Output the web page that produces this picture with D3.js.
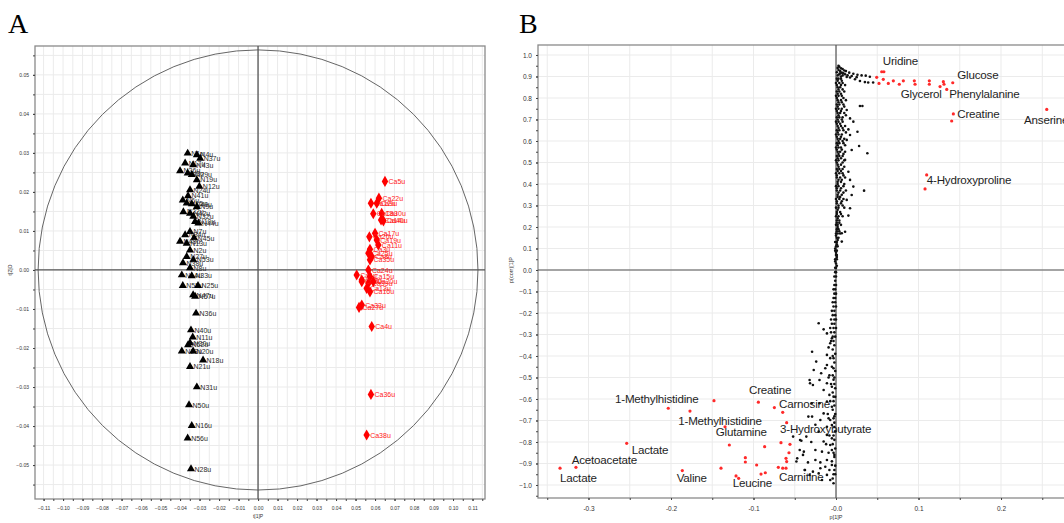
<!DOCTYPE html>
<html>
<head>
<meta charset="utf-8">
<style>
  body { margin: 0; background: #fff; }
  svg { display: block; font-family: "Liberation Sans", Arial, sans-serif; }
</style>
</head>
<body>
<svg id="draw" width="1064" height="523"></svg>

<script src="https://cdnjs.cloudflare.com/ajax/libs/d3/7.8.5/d3.min.js"></script>

<script>
    // ---------- panel A : scores t[1]P / t[2]O ----------
    var aTickX = [-0.11,-0.10,-0.09,-0.08,-0.07,-0.06,-0.05,-0.04,-0.03,-0.02,-0.01,0,0.01,0.02,0.03,0.04,0.05,0.06,0.07,0.08,0.09,0.10,0.11];
    var aTickY = [0.05,0.04,0.03,0.02,0.01,0,-0.01,-0.02,-0.03,-0.04,-0.05];
    var aEllipse = [0.1128, 0.0564]; // Hotelling T2 radii (t1, t2)

    var groupN = [
        ["N1u",-0.0361,0.0299],["N4u",-0.0314,0.0295],["N37u",-0.0297,0.0286],["N17u",-0.0374,0.0274],
        ["N43u",-0.0333,0.0269],["N26u",-0.0400,0.0254],["N3u",-0.0361,0.0248],["N29u",-0.0340,0.0244],
        ["N19u",-0.0314,0.0231],["N12u",-0.0301,0.0214],["N24u",-0.0349,0.0205],["N41u",-0.0359,0.0190],
        ["N6u",-0.0386,0.0179],["N15u",-0.0366,0.0171],["N49u",-0.0340,0.0169],["N9u",-0.0314,0.0162],
        ["N22u",-0.0383,0.0149],["N42u",-0.0349,0.0145],["N32u",-0.0332,0.0137],["N10u",-0.0323,0.0124],
        ["N44u",-0.0306,0.0120],["N7u",-0.0349,0.0098],["N34u",-0.0374,0.0090],["N45u",-0.0328,0.0082],
        ["N48u",-0.0400,0.0073],["N13u",-0.0366,0.0068],["N2u",-0.0349,0.0051],["N27u",-0.0366,0.0034],
        ["N53u",-0.0332,0.0026],["N38u",-0.0385,0.0018],["N8u",-0.0349,0.0005],["N14u",-0.0391,-0.0013],
        ["N33u",-0.0340,-0.0015],["N55u",-0.0386,-0.0040],["N25u",-0.0308,-0.0040],["N47u",-0.0333,-0.0064],
        ["N57u",-0.0323,-0.0068],["N36u",-0.0318,-0.0111],["N40u",-0.0344,-0.0154],["N11u",-0.0335,-0.0172],
        ["N30u",-0.0349,-0.0187],["N52u",-0.0359,-0.0192],["N23u",-0.0391,-0.0208],["N20u",-0.0333,-0.0208],
        ["N18u",-0.0282,-0.0231],["N21u",-0.0349,-0.0248],["N31u",-0.0314,-0.0300],["N50u",-0.0354,-0.0346],
        ["N16u",-0.0340,-0.0399],["N56u",-0.0361,-0.0431],["N28u",-0.0344,-0.0510]
    ];

    var groupCa = [
        ["Ca5u",0.0651,0.0227],["Ca22u",0.0620,0.0184],["Ca12u",0.0579,0.0171],["Ca9u",0.0609,0.0171],
        ["Ca30u",0.0634,0.0145],["Ca18u",0.0591,0.0144],["Ca14u",0.0631,0.0128],["Ca40u",0.0643,0.0126],
        ["Ca17u",0.0600,0.0094],["Ca26u",0.0571,0.0085],["Ca19u",0.0609,0.0077],["Ca11u",0.0617,0.0064],
        ["Ca3u",0.0574,0.0053],["Ca25u",0.0566,0.0043],["Ca8u",0.0583,0.0034],["Ca35u",0.0574,0.0026],
        ["Ca24u",0.0566,0.0000],["Ca1u",0.0506,-0.0013],["Ca15u",0.0574,-0.0017],["Ca2u",0.0532,-0.0026],
        ["Ca39u",0.0566,-0.0034],["Ca6u",0.0532,-0.0030],["Ca20u",0.0591,-0.0030],["Ca13u",0.0557,-0.0047],
        ["Ca16u",0.0574,-0.0056],["Ca33u",0.0532,-0.0090],["Ca27u",0.0518,-0.0096],["Ca4u",0.0583,-0.0145],
        ["Ca36u",0.0579,-0.0319],["Ca38u",0.0557,-0.0423]
    ];

    // ---------- panel B : S-plot p[1]P / p(corr)[1]P ----------
    var bTickX = [-0.3,-0.2,-0.1,0,0.1,0.2];
    var bTickXLabels = ["-0.3","-0.2","-0.1","-0.0","0.1","0.2"];
    var bTickY = [1,0.9,0.8,0.7,0.6,0.5,0.4,0.3,0.2,0.1,0,-0.1,-0.2,-0.3,-0.4,-0.5,-0.6,-0.7,-0.8,-0.9,-1];

    // dense top cluster and the two arms bending right
    var sTop = [[0.002,0.94],[0.004,0.945],[0.006,0.938],[0.003,0.93],[0.008,0.935],[0.005,0.925],[0.001,0.92],
        [0.007,0.918],[0.010,0.928],[0.002,0.905],[0.004,0.91],[0.006,0.90],[0.012,0.925],[0.016,0.918],
        [0.021,0.913],[0.026,0.908],[0.031,0.905],[0.036,0.904],[0.041,0.899],[0.011,0.91],[0.017,0.895],
        [0.023,0.887],[0.029,0.879],[0.035,0.874],[0.039,0.872],[0.045,0.872],[0.014,0.905],[0.019,0.902],[0.025,0.897],
        [0.003,0.95],[0.005,0.915],[0.009,0.915],[0.013,0.898],[0.008,0.905]];

    // main column, rows of [p(corr), [p values]]
    var sColumn = [
        [0.89,[0.001,0.003,0.006]],[0.87,[0.000,0.004,0.008]],[0.85,[0.002,0.005]],[0.83,[0.001,0.004,0.010]],
        [0.81,[0.000,0.003,0.007]],[0.79,[0.002,0.006,0.012]],[0.77,[0.001,0.004,0.009]],[0.75,[0.000,0.003,0.007]],
        [0.73,[0.002,0.005,0.010]],[0.71,[0.001,0.004,0.008]],[0.69,[0.000,0.003,0.008]],[0.67,[0.002,0.006,0.011]],
        [0.65,[0.001,0.004,0.009]],[0.63,[0.000,0.003,0.007]],[0.61,[0.002,0.005,0.010]],[0.59,[0.001,0.004,0.009]],
        [0.57,[0.000,0.003,0.006]],[0.55,[0.002,0.005,0.011]],[0.53,[0.001,0.004,0.008]],[0.51,[0.000,0.003,0.010]],
        [0.49,[0.002,0.006]],[0.47,[0.001,0.004,0.008]],[0.45,[0.000,0.004,0.008]],[0.43,[0.001,0.005,0.011]],
        [0.41,[0.002,0.006]],[0.39,[0.000,0.003,0.009]],[0.37,[0.001,0.005,0.012]],[0.35,[0.002,0.007]],
        [0.33,[0.000,0.004,0.009]],[0.31,[0.001,0.006]],[0.29,[0.000,0.003,0.010]],[0.27,[0.001,0.005]],
        [0.25,[0.000,0.003,0.008]],[0.23,[0.001,0.004]],[0.21,[0.000,0.002,0.006]],[0.19,[0.001,0.003]],
        [0.17,[0.000,0.002,0.005]],[0.15,[0.001,0.003]],[0.13,[-0.001,0.001]],[0.11,[0.000,0.002]],
        [0.09,[-0.001,0.001]],[0.07,[0.000,0.001]],[0.05,[-0.001,0.001]],[0.03,[0.000]],[0.01,[-0.001,0.000]],
        [-0.01,[-0.001,0.000]],[-0.03,[-0.002,0.000]],[-0.05,[-0.001]],[-0.07,[-0.002,0.000]],[-0.09,[-0.003,-0.001]],
        [-0.11,[-0.002,0.000]],[-0.13,[-0.003,-0.001]],[-0.15,[-0.004,-0.001]],[-0.17,[-0.003,0.000]],
        [-0.19,[-0.005,-0.002]],[-0.21,[-0.004,-0.001]],[-0.23,[-0.006,-0.002,0.000]],[-0.25,[-0.005,-0.002]],
        [-0.27,[-0.007,-0.003,0.000]],[-0.29,[-0.006,-0.002]],[-0.31,[-0.004,-0.001]],[-0.35,[-0.002]],
        [-0.39,[-0.001]],[-0.43,[-0.002]],[-0.47,[-0.001]],[-0.51,[-0.003]],[-0.55,[-0.001]],[-0.59,[-0.001]],
        [-0.63,[-0.002]],[-0.67,[-0.001]],[-0.71,[-0.002]],[-0.75,[-0.001]],[-0.79,[-0.002]],[-0.83,[-0.001]],
        [-0.87,[-0.002]],[-0.91,[-0.001]],[-0.95,[-0.003]]
    ];

    // second pass over the column, in between the rows above
    var sColumnFill = [
        [0.88,[0.002,0.007]],[0.86,[0.001,0.006,0.011]],[0.84,[0.003,0.008]],[0.82,[0.002,0.006]],[0.80,[0.001,0.009]],
        [0.78,[0.003,0.007]],[0.76,[0.002,0.010]],[0.74,[0.001,0.006]],[0.72,[0.003,0.012]],[0.70,[0.002,0.007]],
        [0.68,[0.001,0.005]],[0.66,[0.003,0.008]],[0.64,[0.002,0.012]],[0.62,[0.001,0.006]],[0.60,[0.003,0.008]],
        [0.58,[0.002,0.011]],[0.56,[0.001,0.007]],[0.54,[0.003,0.009]],[0.52,[0.002,0.006]],[0.50,[0.001,0.008]],
        [0.48,[0.003,0.010]],[0.46,[0.002,0.006]],[0.44,[0.001,0.009]],[0.42,[0.003,0.007]],[0.40,[0.002,0.010]],
        [0.38,[0.001,0.006]],[0.36,[0.003,0.009]],[0.34,[0.002,0.005]],[0.32,[0.001,0.007]],[0.30,[0.003,0.008]],
        [0.28,[0.002]],[0.26,[0.001,0.006]],[0.24,[0.002]],[0.22,[0.001,0.004]],[0.20,[0.002]],[0.18,[0.001,0.004]],
        [0.16,[0.000]],[0.14,[0.002]],[0.12,[0.001]],[0.10,[-0.001]],[0.08,[0.000]],[0.06,[0.001]],[0.04,[-0.001]],
        [0.02,[0.001]],
        [-0.33,[-0.003,-0.006]],[-0.37,[-0.004]],[-0.41,[-0.003,-0.007]],[-0.45,[-0.005]],[-0.49,[-0.004,-0.008]],
        [-0.53,[-0.002,-0.006]],[-0.57,[-0.004]],[-0.61,[-0.003,-0.007]],[-0.65,[-0.004]],[-0.69,[-0.003,-0.009]],
        [-0.73,[-0.002]],[-0.77,[-0.003,-0.008]],[-0.81,[-0.004,-0.012]],[-0.85,[-0.003,-0.009]],[-0.89,[-0.005]],
        [-0.93,[-0.002,-0.008]],[-0.97,[-0.004]]
    ];

    var sOutUpper = [[0.029,0.763],[0.032,0.763],[0.013,0.744],[0.017,0.705],[0.021,0.69],[0.015,0.654],[0.026,0.643],
        [0.017,0.628],[0.013,0.605],[0.019,0.558],[0.028,0.577],[0.038,0.543],[0.011,0.512],[0.015,0.457],
        [0.017,0.419],[0.021,0.388],[0.034,0.369],[0.019,0.349],[0.013,0.326],[0.017,0.287],[0.015,0.253],
        [0.011,0.178],[0.007,0.171],[0.007,0.132]];

    var sOutLower = [[-0.021,-0.248],[-0.015,-0.276],[-0.011,-0.295],[-0.005,-0.318],[-0.007,-0.341],[-0.029,-0.38],
        [-0.011,-0.395],[-0.004,-0.40],[-0.024,-0.426],[-0.011,-0.442],[-0.003,-0.457],[-0.027,-0.465],[-0.013,-0.457],
        [-0.032,-0.512],[-0.020,-0.512],[-0.011,-0.527],[-0.005,-0.543],[-0.028,-0.535],[-0.015,-0.558],[-0.008,-0.581],
        [-0.003,-0.589],[-0.011,-0.612],[-0.005,-0.636],[-0.029,-0.682],[-0.015,-0.667],[-0.019,-0.698],[-0.007,-0.698],
        [-0.005,-0.721],[-0.011,-0.729],[-0.036,-0.775],[-0.021,-0.752],[-0.011,-0.767],[-0.005,-0.783],[-0.042,-0.794],
        [-0.015,-0.798],[-0.007,-0.814],[-0.044,-0.837],[-0.039,-0.845],[-0.025,-0.837],[-0.017,-0.845],[-0.005,-0.837],
        [-0.048,-0.891],[-0.034,-0.895],[-0.025,-0.884],[-0.019,-0.895],[-0.011,-0.884],[-0.038,-0.930],[-0.028,-0.938],
        [-0.019,-0.922],[-0.013,-0.915],[-0.005,-0.907],[-0.021,-0.946],[-0.011,-0.953],[-0.032,-0.953],[-0.017,-0.977],
        [-0.007,-0.977],[-0.003,-0.992],[-0.0315,-0.527],[-0.0295,-0.62],[-0.0335,-0.682],[-0.052,-0.775],
        [-0.0436,-0.791],[-0.047,-0.876],[-0.0376,-0.93],[-0.040,-0.86],[-0.030,-0.80],[-0.025,-0.72],[-0.020,-0.62],
        [-0.018,-0.48],[-0.009,-0.36],[-0.002,-0.50],[-0.002,-0.68],[-0.002,-0.86],[-0.001,-0.95],[-0.009,-0.50],[-0.010,-0.67]];

    // significant metabolites (red)
    var sRed = [[0.0554,0.922],[0.058,0.922],[0.0493,0.896],[0.0521,0.868],[0.0573,0.887],[0.0634,0.868],[0.0695,0.880],
        [0.0767,0.864],[0.0816,0.880],[0.0949,0.880],[0.0958,0.864],[0.1131,0.880],[0.1131,0.864],[0.1261,0.853],
        [0.1301,0.876],[0.1309,0.864],[0.1342,0.840],[0.1415,0.871],[0.1422,0.726],[0.1402,0.693],[0.2554,0.747],
        [0.1099,0.442],[0.1079,0.377],
        [-0.3345,-0.922],[-0.3152,-0.918],[-0.2537,-0.806],[-0.2033,-0.643],[-0.1479,-0.608],[-0.177,-0.656],
        [-0.0941,-0.615],[-0.0747,-0.640],[-0.0646,-0.662],[-0.1345,-0.729],[-0.0598,-0.710],[-0.1293,-0.814],
        [-0.0865,-0.822],[-0.0667,-0.803],[-0.0558,-0.811],[-0.057,-0.850],[-0.0606,-0.876],[-0.0598,-0.891],
        [-0.1099,-0.873],[-0.1099,-0.893],[-0.0962,-0.907],[-0.0699,-0.918],[-0.0646,-0.922],[-0.0606,-0.922],
        [-0.1394,-0.922],[-0.1863,-0.933],[-0.1212,-0.958],[-0.118,-0.969],[-0.0909,-0.949],[-0.0857,-0.943]];

    var sLabels = [
        ["Uridine",0.0566,0.973],["Glucose",0.147,0.910],["Glycerol",0.0785,0.822],["Phenylalanine",0.1373,0.822],
        ["Creatine",0.147,0.729],["Anserine",0.2279,0.702],["4-Hydroxyproline",0.110,0.423],
        ["Lactate",-0.3345,-0.964],["Acetoacetate",-0.3204,-0.880],["Lactate",-0.2476,-0.837],
        ["1-Methylhistidine",-0.2679,-0.597],["1-Methylhistidine",-0.1912,-0.701],["Glutamine",-0.1458,-0.752],
        ["Creatine",-0.1055,-0.558],["Carnosine",-0.0691,-0.620],["3-Hydroxybutyrate",-0.0679,-0.736],
        ["Valine",-0.1931,-0.964],["Leucine",-0.1252,-0.987],["Carnitine",-0.0691,-0.961]
    ];

    var gridColor = "#ebebeb";
    var frameColor = "#8a8a8a";
    var axisColor = "#555";
    var tickColor = "#444";

    const svg = d3.select("svg#draw");

    // panel letters
    svg.append("text").attr("x", 8).attr("y", 33).text("A")
        .style("font-family", "'Liberation Serif', serif").style("font-size", "28px");
    svg.append("text").attr("x", 519).attr("y", 33).text("B")
        .style("font-family", "'Liberation Serif', serif").style("font-size", "28px");

    // ================= panel A =================
    var ax = d3.scaleLinear().domain([-0.1144, 0.1164]).range([35, 485]);
    var ay = d3.scaleLinear().domain([0.0574, -0.0587]).range([46, 499]);
    var gA = svg.append("g");

    gA.append("g").selectAll("line").data(d3.range(-22, 24).map(i => i * 0.005))
        .join("line")
        .attr("x1", d => ax(d)).attr("x2", d => ax(d)).attr("y1", 46).attr("y2", 499)
        .attr("stroke", gridColor).attr("stroke-width", 1);
    gA.append("g").selectAll("line").data(d3.range(-11, 12).map(i => i * 0.005))
        .join("line")
        .attr("y1", d => ay(d)).attr("y2", d => ay(d)).attr("x1", 35).attr("x2", 485)
        .attr("stroke", gridColor).attr("stroke-width", 1);

    gA.append("rect").attr("x", 35).attr("y", 46).attr("width", 450).attr("height", 453)
        .attr("fill", "none").attr("stroke", frameColor).attr("stroke-width", 1.3);

    gA.append("ellipse")
        .attr("cx", ax(0)).attr("cy", ay(0))
        .attr("rx", ax(aEllipse[0]) - ax(0)).attr("ry", ay(0) - ay(aEllipse[1]))
        .attr("fill", "none").attr("stroke", "#666").attr("stroke-width", 1);

    gA.append("line").attr("x1", ax(0)).attr("x2", ax(0)).attr("y1", 46).attr("y2", 499)
        .attr("stroke", axisColor).attr("stroke-width", 1.3);
    gA.append("line").attr("x1", 35).attr("x2", 485).attr("y1", ay(0)).attr("y2", ay(0))
        .attr("stroke", axisColor).attr("stroke-width", 1.3);

    function styleAxis(g, size) {
        g.select(".domain").remove();
        g.selectAll("line").attr("stroke", tickColor);
        g.selectAll("text").style("font-size", size).attr("fill", "#333")
            .style("font-family", "'Liberation Sans', Arial, sans-serif");
    }

    gA.append("g").attr("transform", "translate(35,0)")
        .call(d3.axisLeft(ay).tickValues(d3.range(-11, 12).map(i => i * 0.005)).tickSize(2).tickFormat(""))
        .call(g => styleAxis(g, "5px"));
    gA.append("g").attr("transform", "translate(35,0)")
        .call(d3.axisLeft(ay).tickValues(aTickY).tickSize(2).tickPadding(4).tickFormat(d3.format(".2f")))
        .call(g => styleAxis(g, "5px"));
    gA.append("g").attr("transform", "translate(0,499)")
        .call(d3.axisBottom(ax).tickValues(d3.range(-22, 24).map(i => i * 0.005)).tickSize(2).tickFormat(""))
        .call(g => styleAxis(g, "5px"));
    gA.append("g").attr("transform", "translate(0,499)")
        .call(d3.axisBottom(ax).tickValues(aTickX).tickSize(2).tickPadding(5).tickFormat(d3.format(".2f")))
        .call(g => styleAxis(g, "5px"));

    gA.append("text").attr("x", ax(0)).attr("y", 518).attr("text-anchor", "middle")
        .style("font-size", "5px").attr("fill", "#333").text("t[1]P");
    gA.append("text").attr("transform", `translate(12,${ay(0)}) rotate(-90)`).attr("text-anchor", "middle")
        .style("font-size", "5px").attr("fill", "#333").text("t[2]O");

    var tri = d3.symbol().type(d3.symbolTriangle).size(28);
    var dia = d3.symbol().type(d3.symbolDiamond).size(36);

    var nG = gA.append("g").selectAll("g").data(groupN).join("g")
        .attr("transform", d => `translate(${ax(d[1])},${ay(d[2])})`);
    nG.append("text").attr("x", 3.5).attr("y", 2.6).text(d => d[0])
        .style("font-size", "7px").attr("fill", "#2a2a2a");
    nG.append("path").attr("d", tri).attr("fill", "#000");

    var cG = gA.append("g").selectAll("g").data(groupCa).join("g")
        .attr("transform", d => `translate(${ax(d[1])},${ay(d[2])})`);
    cG.append("text").attr("x", 3.5).attr("y", 2.6).text(d => d[0])
        .style("font-size", "7px").attr("fill", "#ff1a1a");
    cG.append("path").attr("d", dia).attr("fill", "#ff0000");

    // ================= panel B =================
    var bx = d3.scaleLinear().domain([-0.3612, 0.2836]).range([538, 1070]);
    var by = d3.scaleLinear().domain([1.0465, -1.0605]).range([45, 498]);
    var gB = svg.append("g");

    gB.append("g").selectAll("line").data(d3.range(-7, 6).map(i => i * 0.05))
        .join("line")
        .attr("x1", d => bx(d)).attr("x2", d => bx(d)).attr("y1", 45).attr("y2", 498)
        .attr("stroke", gridColor);
    gB.append("g").selectAll("line").data(bTickY)
        .join("line")
        .attr("y1", d => by(d)).attr("y2", d => by(d)).attr("x1", 538).attr("x2", 1070)
        .attr("stroke", gridColor);

    gB.append("rect").attr("x", 538).attr("y", 45).attr("width", 540).attr("height", 453)
        .attr("fill", "none").attr("stroke", frameColor).attr("stroke-width", 1.3);

    gB.append("line").attr("x1", bx(0)).attr("x2", bx(0)).attr("y1", 45).attr("y2", 498)
        .attr("stroke", axisColor).attr("stroke-width", 1.2);
    gB.append("line").attr("x1", 538).attr("x2", 1070).attr("y1", by(0)).attr("y2", by(0))
        .attr("stroke", axisColor).attr("stroke-width", 1.2);

    gB.append("g").attr("transform", "translate(538,0)")
        .call(d3.axisLeft(by).tickValues(d3.range(-21, 21).map(i => i * 0.05)).tickSize(2).tickFormat(""))
        .call(g => styleAxis(g, "6.5px"));
    gB.append("g").attr("transform", "translate(538,0)")
        .call(d3.axisLeft(by).tickValues(bTickY).tickSize(2).tickPadding(4).tickFormat(d3.format(".1f")))
        .call(g => styleAxis(g, "6.5px"));
    gB.append("g").attr("transform", "translate(0,498)")
        .call(d3.axisBottom(bx).tickValues(d3.range(-7, 6).map(i => i * 0.05)).tickSize(2).tickFormat(""))
        .call(g => styleAxis(g, "6.5px"));
    gB.append("g").attr("transform", "translate(0,498)")
        .call(d3.axisBottom(bx).tickValues(bTickX).tickSize(2).tickPadding(6).tickFormat((d, i) => bTickXLabels[i]))
        .call(g => styleAxis(g, "6.5px"));

    gB.append("text").attr("x", bx(0)).attr("y", 519).attr("text-anchor", "middle")
        .style("font-size", "5.5px").attr("fill", "#333").text("p[1]P");
    gB.append("text").attr("transform", `translate(513,${by(0)}) rotate(-90)`).attr("text-anchor", "middle")
        .style("font-size", "5.5px").attr("fill", "#333").text("p(corr)[1]P");

    // labels first, dots drawn over them
    gB.append("g").selectAll("text").data(sLabels).join("text")
        .attr("x", d => bx(d[1])).attr("y", d => by(d[2]))
        .attr("dominant-baseline", "central")
        .style("font-size", "11.6px").style("letter-spacing", "-0.2px")
        .attr("fill", "#1e1e1e").text(d => d[0]);

    var blackDots = sTop.concat(
        sColumn.flatMap(r => r[1].map(x => [x, r[0]])),
        sColumnFill.flatMap(r => r[1].map(x => [x, r[0]])),
        sOutUpper, sOutLower);

    gB.append("g").selectAll("circle").data(blackDots).join("circle")
        .attr("cx", d => bx(d[0])).attr("cy", d => by(d[1])).attr("r", 1.3)
        .attr("fill", "#111");

    gB.append("g").selectAll("circle").data(sRed).join("circle")
        .attr("cx", d => bx(d[0])).attr("cy", d => by(d[1])).attr("r", 1.6)
        .attr("fill", "#ff2a2a");
</script>
</body>
</html>
